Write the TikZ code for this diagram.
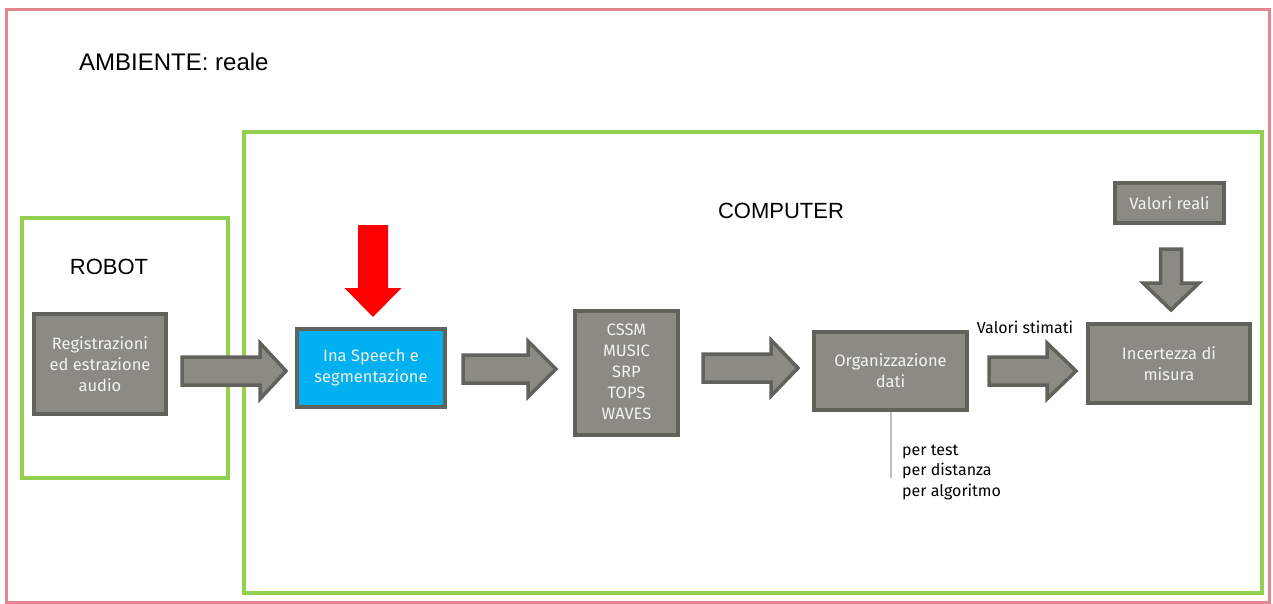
\documentclass[tikz,border=0pt]{standalone}
\usepackage{fontspec}
\setmainfont{Liberation Sans}
\newfontfamily\boxfont{Fira Sans}
\definecolor{framepink}{RGB}{228,134,146}
\definecolor{framegreen}{RGB}{146,208,80}
\definecolor{boxfill}{RGB}{139,139,131}
\definecolor{boxedge}{RGB}{98,98,92}
\definecolor{boxtext}{RGB}{242,242,242}
\definecolor{cyanfill}{RGB}{0,176,240}
\definecolor{sepgray}{RGB}{191,191,191}

% horizontal block arrow: tail x, head-base x, tip x, centre y
\newcommand\rightblock[5][blockarrow]{%
  \draw[#1] (#2,#5-14) -- (#3,#5-14) -- (#3,#5-28) -- (#4,#5)
    -- (#3,#5+28) -- (#3,#5+14) -- (#2,#5+14) -- cycle;}
% vertical block arrow: centre x, tail y, head-base y, tip y, shaft half, head half
\newcommand\downblock[7][blockarrow]{%
  \draw[#1] (#2-#6,#3) -- (#2+#6,#3) -- (#2+#6,#4) -- (#2+#7,#4) -- (#2,#5)
    -- (#2-#7,#4) -- (#2-#6,#4) -- cycle;}

\begin{document}
\begin{tikzpicture}[x=1pt,y=-1pt,
  proc/.style={draw=boxedge, fill=boxfill, line width=4pt, text=boxtext,
    font=\boxfont\fontsize{16.5}{21}\selectfont, align=center, inner sep=0pt},
  blockarrow/.style={draw=boxedge, fill=boxfill, line width=3.5pt, line join=miter},
  redarrow/.style={fill=red, draw=none},
  title/.style={font=\fontsize{22}{26}\selectfont, inner sep=0pt},
  note/.style={font=\boxfont\fontsize{16}{20.5}\selectfont, inner sep=0pt, text=black}]
\useasboundingbox (0,0) rectangle (1273,604);

% environment and subsystem frames
\draw[framepink, line width=3pt] (6,10) rectangle (1269,602);
\draw[framegreen, line width=4pt] (244,132) rectangle (1262,593);
\draw[framegreen, line width=4pt] (22,218) rectangle (228,478);

\node[title, font=\fontsize{24}{28}\selectfont, anchor=west] (amb) at (79,62) {AMBIENTE: reale};
\node[title] (comp) at (781,211) {COMPUTER};
\node[title] (rob) at (109,267) {ROBOT};

% processing blocks
\node[proc, minimum width=132, minimum height=100] (reg) at (100,364)
  {Registrazioni\\ed estrazione\\audio};
\node[proc, fill=cyanfill, minimum width=148, minimum height=78] (ina) at (371,368)
  {Ina Speech e\\segmentazione};
\node[proc, minimum width=103, minimum height=124] (algo) at (626.5,373)
  {\raisebox{5pt}{\begin{tabular}{@{}c@{}}CSSM\\MUSIC\\SRP\\TOPS\\WAVES\end{tabular}}};
\node[proc, minimum width=153, minimum height=78] (org) at (890.5,371)
  {Organizzazione\\dati};
\node[proc, minimum width=162, minimum height=79] (inc) at (1169,363.5)
  {Incertezza di\\misura};
\node[proc, minimum width=109, minimum height=40] (vreal) at (1169.5,203)
  {Valori reali};

% flow arrows
\rightblock{182}{260}{286}{371}
\rightblock{463}{528}{556}{369}
\rightblock{703}{771}{798}{368}
\rightblock{989}{1047}{1076}{371}
\downblock{1171}{249}{283}{310}{10.5}{28}
\downblock[redarrow]{373}{225}{288}{317}{15}{28.5}

% labels
\node[note] (stim) at (1025,327) {Valori stimati};
\coordinate (orgtail) at (890.5,478);
\draw[sepgray, line width=2pt] (org.south) -- (orgtail);
\node[note, anchor=west, align=left] (crit) at (902,472)
  {per test\\per distanza\\per algoritmo};
\end{tikzpicture}
\end{document}
